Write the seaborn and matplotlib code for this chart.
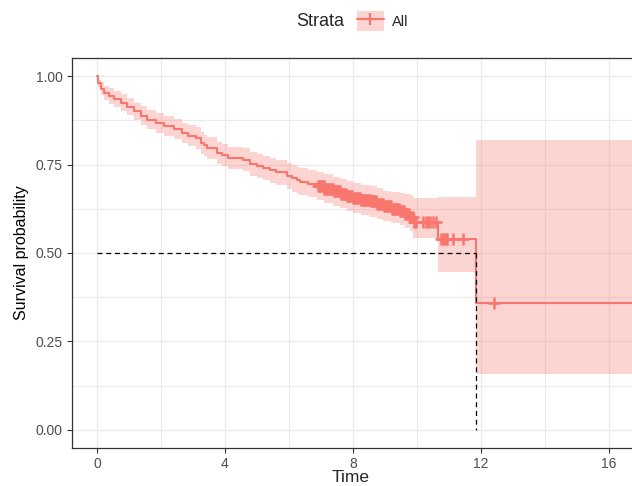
import numpy as np
import pandas as pd
import matplotlib.pyplot as plt
import seaborn as sns
from matplotlib.patches import Patch
from matplotlib.lines import Line2D

# Kaplan-Meier step values
time = [0, 0.03, 0.12, 0.22, 0.38, 0.53, 0.74, 0.95, 1.16, 1.37, 1.57, 1.83, 2.09, 2.4, 2.67,
        2.85, 3.1, 3.25, 3.35, 3.43, 3.74, 3.9, 4.1, 4.57, 4.78, 5.0, 5.2, 5.4, 5.6, 5.93,
        6.1, 6.25, 6.34, 6.6, 6.87, 7.1, 7.39, 7.6, 7.8, 8.0, 8.25, 8.53, 8.75, 8.95, 9.2,
        9.47, 9.62, 9.78, 9.88, 10.66, 11.84, 16.72]
surv = [1.0, 0.98, 0.964, 0.952, 0.943, 0.935, 0.924, 0.913, 0.900, 0.888, 0.877, 0.868, 0.858,
        0.851, 0.839, 0.832, 0.825, 0.812, 0.804, 0.797, 0.783, 0.776, 0.769, 0.764, 0.752,
        0.746, 0.740, 0.734, 0.728, 0.718, 0.711, 0.706, 0.702, 0.696, 0.690, 0.682, 0.674,
        0.668, 0.661, 0.655, 0.650, 0.646, 0.639, 0.632, 0.625, 0.618, 0.611, 0.603, 0.587,
        0.540, 0.360, 0.360]
upper = [1.0, 0.99, 0.982, 0.973, 0.966, 0.958, 0.948, 0.937, 0.925, 0.914, 0.904, 0.896, 0.886,
         0.879, 0.868, 0.861, 0.855, 0.842, 0.834, 0.828, 0.814, 0.807, 0.800, 0.797, 0.786,
         0.780, 0.775, 0.769, 0.764, 0.755, 0.748, 0.744, 0.740, 0.734, 0.729, 0.722, 0.715,
         0.709, 0.703, 0.697, 0.693, 0.690, 0.683, 0.676, 0.673, 0.670, 0.667, 0.665, 0.655,
         0.657, 0.820, 0.820]
lower = [1.0, 0.968, 0.946, 0.931, 0.920, 0.912, 0.900, 0.889, 0.875, 0.862, 0.850, 0.840, 0.830,
         0.822, 0.810, 0.803, 0.795, 0.781, 0.773, 0.766, 0.752, 0.745, 0.738, 0.731, 0.718,
         0.711, 0.705, 0.698, 0.692, 0.681, 0.673, 0.668, 0.664, 0.657, 0.651, 0.642, 0.633,
         0.627, 0.620, 0.614, 0.608, 0.603, 0.596, 0.590, 0.584, 0.578, 0.570, 0.562, 0.542,
         0.445, 0.158, 0.158]

# censoring times (+ marks)
censor_time = [6.90, 6.93, 6.96, 6.99, 7.02, 7.05, 7.08, 7.11, 7.14, 7.17, 7.20, 7.23, 7.26,
               7.29, 7.32, 7.35, 7.38, 7.41, 7.44, 7.47, 7.50, 7.53, 7.56, 7.59, 7.62, 7.65,
               7.68, 7.71, 7.74, 7.77, 7.80, 7.83, 7.86, 7.89, 7.92, 7.95, 7.98, 8.01, 8.04,
               8.07, 8.10, 8.13, 8.16, 8.19, 8.22, 8.25, 8.28, 8.31, 8.34, 8.37, 8.40, 8.43,
               8.46, 8.49, 8.52, 8.55, 8.58, 8.61, 8.64, 8.67, 8.70, 8.73, 8.76, 8.79, 8.82,
               8.85, 8.88, 8.91, 8.94, 8.97, 9.00, 9.03, 9.06, 9.09, 9.12, 9.15, 9.18, 9.21,
               9.24, 9.27, 9.30, 9.33, 9.36, 9.39, 9.42, 9.45, 9.48, 9.51, 9.54, 9.57, 9.60,
               9.63, 9.66, 9.69, 9.72, 9.75, 9.78, 9.81, 9.84, 9.87, 9.90, 9.93, 9.96,
               10.2, 10.27, 10.33, 10.4, 10.5, 10.58,
               10.75, 10.8, 10.84, 10.9, 10.93, 11.14, 11.45, 12.4]

median_time = 11.84
red = "#F8766D"

km = pd.DataFrame({"time": time, "surv": surv, "lower": lower, "upper": upper})
idx = np.searchsorted(km["time"].values, censor_time, side="right") - 1
cens = pd.DataFrame({"time": censor_time, "surv": km["surv"].values[idx]})

sns.set_theme(style="whitegrid")
plt.rcParams["font.family"] = ["Liberation Sans", "DejaVu Sans"]

fig = plt.figure(figsize=(6.32, 4.86), dpi=100)
ax = fig.add_axes([72 / 632, 38 / 486, 560 / 632, 390 / 486])

ax.fill_between(km["time"], km["lower"], km["upper"], step="post",
                color=red, alpha=0.3, linewidth=0, zorder=2)
sns.lineplot(data=km, x="time", y="surv", drawstyle="steps-post", color=red,
             linewidth=1.5, ax=ax, zorder=3, estimator=None)
sns.scatterplot(data=cens, x="time", y="surv", marker="+", s=80, linewidth=1.8,
                color=red, ax=ax, zorder=4)

# median survival lines
ax.plot([0, median_time], [0.5, 0.5], color="black", linestyle=(0, (4, 3)), linewidth=0.9, zorder=5)
ax.plot([median_time, median_time], [0.5, 0], color="black", linestyle=(0, (4, 3)), linewidth=0.9, zorder=5)

ax.set_xlim(-0.78, 16.72)
ax.set_ylim(-0.051, 1.051)
ax.set_xticks([0, 4, 8, 12, 16])
ax.set_xticks([2, 6, 10, 14], minor=True)
ax.set_yticks([0, 0.25, 0.5, 0.75, 1.0])
ax.set_yticklabels(["0.00", "0.25", "0.50", "0.75", "1.00"])
ax.set_yticks([0.125, 0.375, 0.625, 0.875], minor=True)
ax.grid(which="major", color="#EBEBEB", linewidth=1.0)
ax.grid(which="minor", color="#EBEBEB", linewidth=0.8)
ax.set_axisbelow(True)

for side in ["left", "bottom", "top"]:
    ax.spines[side].set_color("#333333")
    ax.spines[side].set_linewidth(0.9)
ax.spines["right"].set_visible(False)
ax.tick_params(which="major", length=3.5, width=0.8, color="#333333",
               labelcolor="#4D4D4D", labelsize=10, pad=3, bottom=True, left=True)
ax.tick_params(which="minor", length=0)

ax.set_xlabel("")
ax.set_ylabel("Survival probability", fontsize=11.5, color="black", labelpad=5)
fig.text(351 / 632, 1 / 486, "Time", ha="center", va="bottom", fontsize=12.5)

# legend on top
fig.text(320 / 632, 1 - 22 / 486, "Strata", ha="center", va="center", fontsize=13)
key = (Patch(facecolor=red, alpha=0.3, edgecolor="none"),
       Line2D([], [], color=red, linewidth=1.5, marker="+", markersize=9, markeredgewidth=1.6))
fig.legend(handles=[key], labels=["All"], loc="center left",
           bbox_to_anchor=(357 / 632, 1 - 21 / 486), frameon=False, fontsize=10.5,
           handlelength=1.85, handleheight=1.65, handletextpad=0.55, borderpad=0,
           borderaxespad=0)

fig.savefig("out.png", dpi=100)
